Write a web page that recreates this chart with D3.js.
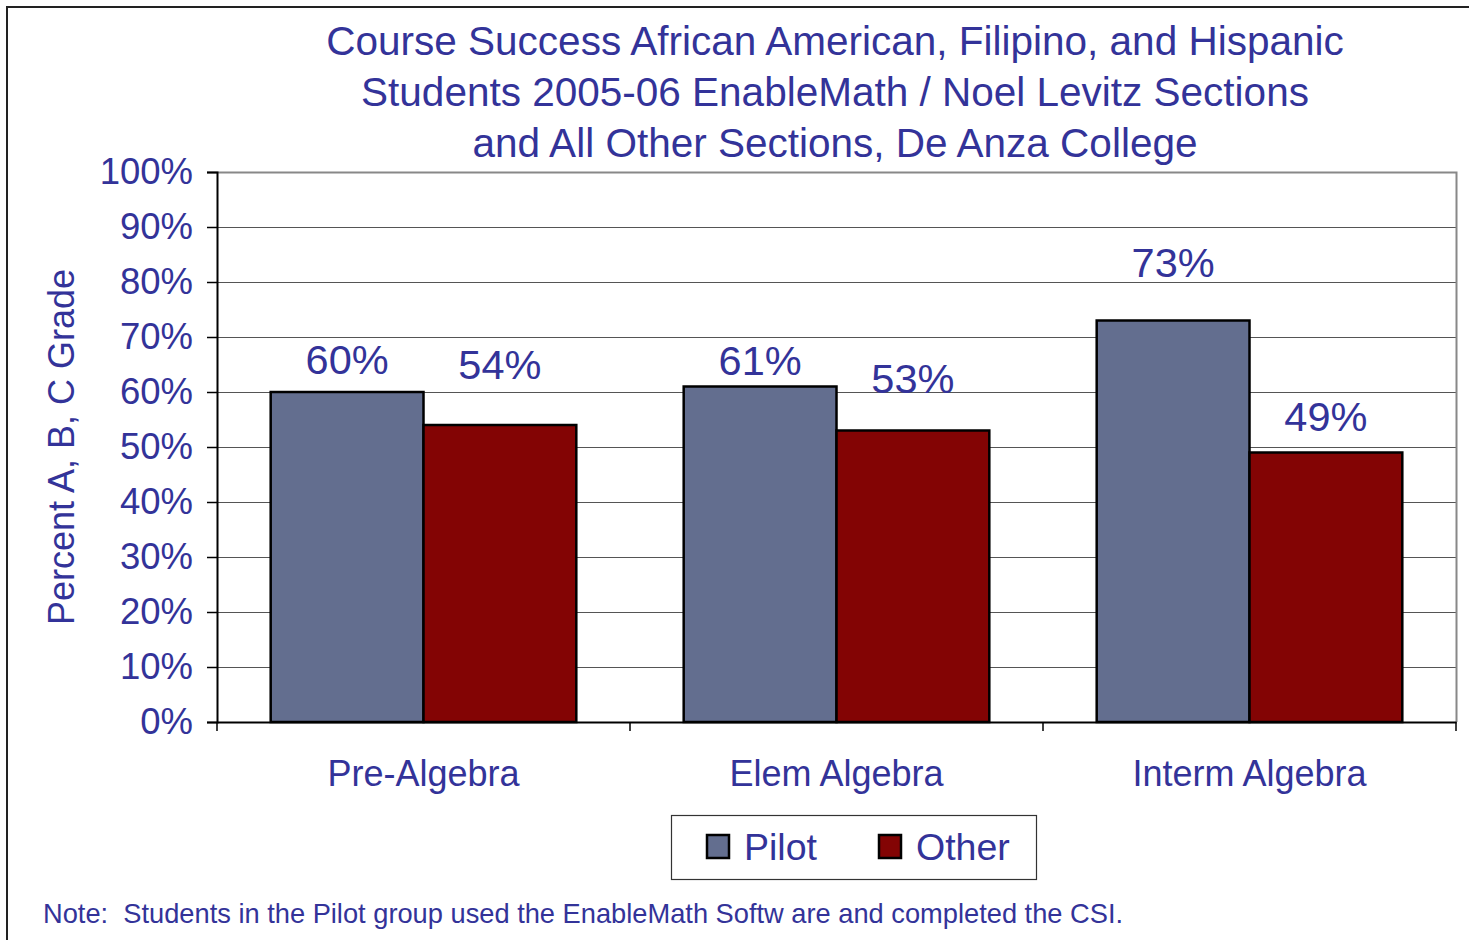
<!DOCTYPE html>
<html>
<head>
<meta charset="utf-8">
<script src="https://cdn.jsdelivr.net/npm/d3@7"></script>
<style>
  html, body { margin: 0; padding: 0; background: #fff; }
  svg { display: block; font-family: "Liberation Sans", Arial, sans-serif; }
</style>
</head>
<body>
<svg id="chart" width="1469" height="940"></svg>
<script>
// ---- data ----
const categories = ["Pre-Algebra", "Elem Algebra", "Interm Algebra"];
const seriesNames = ["Pilot", "Other"];
const pilotValues = [0.60, 0.61, 0.73];
const otherValues = [0.54, 0.53, 0.49];
const yTickValues = [0, 0.1, 0.2, 0.3, 0.4, 0.5, 0.6, 0.7, 0.8, 0.9, 1.0];
const titleLines = [
  "Course Success African American, Filipino, and Hispanic",
  "Students 2005-06 EnableMath / Noel Levitz Sections",
  "and All Other Sections, De Anza College"
];
const yAxisTitle = "Percent A, B, C Grade";
const noteText = "Note:  Students in the Pilot group used the EnableMath Softw are and completed the CSI.";

// ---- layout / style ----
const textColor = "#333399";
const colors = { Pilot: "#636E8F", Other: "#830404" };
const plot = { left: 217, right: 1456, top: 172, bottom: 722 };
// label vertical offsets above bar tops (per category, per series), as placed in the original
const labelLift = { Pilot: [18, 12, 44], Other: [46, 38, 22] };

const svg = d3.select("#chart");

// outer frame (only top/left visible in the original crop)
svg.append("rect").attr("x", 7).attr("y", 7).attr("width", 1480).attr("height", 960)
  .attr("fill", "none").attr("stroke", "#222").attr("stroke-width", 2);

const x = d3.scaleBand().domain(categories).range([plot.left, plot.right]).paddingInner(0).paddingOuter(0);
const gapFrac = 0.13;
const xs = d3.scaleBand().domain(seriesNames)
  .range([x.bandwidth() * gapFrac, x.bandwidth() * (1 - gapFrac)]).padding(0);
const y = d3.scaleLinear().domain([0, 1]).range([plot.bottom, plot.top]);

// gridlines
svg.append("g").selectAll("line").data(yTickValues.filter(d => d > 0 && d < 1)).join("line")
  .attr("x1", plot.left).attr("x2", plot.right)
  .attr("y1", d => Math.round(y(d)) + 0.5).attr("y2", d => Math.round(y(d)) + 0.5)
  .attr("stroke", "#555").attr("stroke-width", 1.2);

// plot border top & right (gray)
svg.append("path")
  .attr("d", `M${plot.left},${plot.top + 0.5}H${plot.right + 0.5}V${plot.bottom}`)
  .attr("fill", "none").attr("stroke", "#888").attr("stroke-width", 2);

// bars
const rows = categories.map((c, i) => ({ cat: c, i, Pilot: pilotValues[i], Other: otherValues[i] }));
const groups = svg.append("g").selectAll("g").data(rows).join("g")
  .attr("transform", d => `translate(${x(d.cat)},0)`);
groups.selectAll("rect").data(d => seriesNames.map(s => ({ s, v: d[s], i: d.i }))).join("rect")
  .attr("x", d => xs(d.s)).attr("width", xs.bandwidth())
  .attr("y", d => y(d.v)).attr("height", d => y(0) - y(d.v))
  .attr("fill", d => colors[d.s]).attr("stroke", "#000").attr("stroke-width", 2.5);

// value labels
groups.selectAll("text").data(d => seriesNames.map(s => ({ s, v: d[s], i: d.i }))).join("text")
  .attr("x", d => xs(d.s) + xs.bandwidth() / 2)
  .attr("y", d => y(d.v) - labelLift[d.s][d.i])
  .attr("text-anchor", "middle").attr("font-size", 41.5).attr("fill", textColor)
  .text(d => d3.format(".0%")(d.v));

// y axis
const yAxis = d3.axisLeft(y).tickValues(yTickValues).tickFormat(d3.format(".0%")).tickSize(10).tickPadding(14);
const gy = svg.append("g").attr("transform", `translate(${plot.left},0)`).call(yAxis);
gy.select(".domain").attr("stroke", "#000").attr("stroke-width", 2);
gy.selectAll(".tick line").attr("stroke", "#000").attr("stroke-width", 1.5);
gy.selectAll(".tick text").attr("font-size", 36.5).attr("fill", textColor)
  .attr("font-family", "Liberation Sans, Arial, sans-serif");

// x axis
const xAxis = d3.axisBottom(x).tickSize(0).tickPadding(38);
const gx = svg.append("g").attr("transform", `translate(0,${plot.bottom})`).call(xAxis);
gx.select(".domain").attr("stroke", "#000").attr("stroke-width", 2);
gx.selectAll(".tick text").attr("font-size", 36).attr("fill", textColor)
  .attr("font-family", "Liberation Sans, Arial, sans-serif");
// category boundary ticks
const boundaries = categories.map(c => x(c)).concat([x(categories[categories.length - 1]) + x.bandwidth()]);
gx.selectAll(".bnd").data(boundaries).join("line").attr("class", "bnd")
  .attr("x1", d => d).attr("x2", d => d).attr("y1", 0).attr("y2", 9)
  .attr("stroke", "#000").attr("stroke-width", 1.5);

// title
svg.append("g").selectAll("text").data(titleLines).join("text")
  .attr("x", 835).attr("y", (d, i) => 55 + i * 51)
  .attr("text-anchor", "middle").attr("font-size", 40.5).attr("fill", textColor)
  .text(d => d);

// y axis title
svg.append("text").attr("transform", "translate(74,447) rotate(-90)")
  .attr("text-anchor", "middle").attr("font-size", 36).attr("fill", textColor)
  .text(yAxisTitle);

// legend
const lg = svg.append("g");
lg.append("rect").attr("x", 671.5).attr("y", 815.5).attr("width", 365).attr("height", 64)
  .attr("fill", "#fff").attr("stroke", "#333").attr("stroke-width", 1.2);
const legendX = [707, 879];
const li = lg.selectAll("g.item").data(seriesNames).join("g").attr("class", "item")
  .attr("transform", (d, i) => `translate(${legendX[i]},835)`);
li.append("rect").attr("width", 22).attr("height", 23)
  .attr("fill", d => colors[d]).attr("stroke", "#000").attr("stroke-width", 2.5);
li.append("text").attr("x", 37).attr("y", 25).attr("font-size", 37.5).attr("fill", textColor).text(d => d);

// note
svg.append("text").attr("x", 43).attr("y", 923).attr("font-size", 27.25).attr("fill", textColor)
  .style("white-space", "pre").attr("xml:space", "preserve")
  .text(noteText);
</script>
</body>
</html>
